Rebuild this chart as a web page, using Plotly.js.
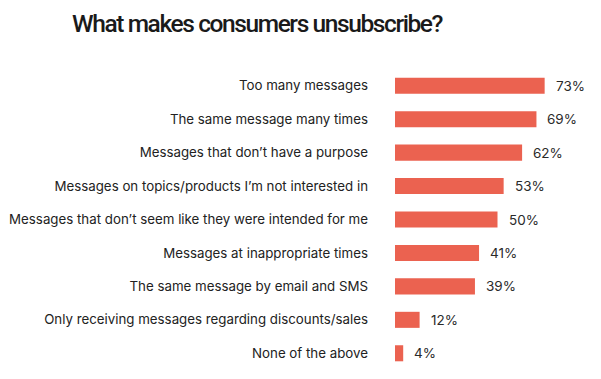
<!DOCTYPE html>
<html>
<head>
<meta charset="utf-8">
<script src="https://cdn.plot.ly/plotly-3.0.1.min.js"></script>
<style>html,body{margin:0;padding:0;background:#fff;}#chart{width:601px;height:379px;}
.gtitle{letter-spacing:-1.4px;}</style>
</head>
<body>
<div id="chart"></div>
<script>
const categories = [
  "Too many messages",
  "The same message many times",
  "Messages that don’t have a purpose",
  "Messages on topics/products I’m not interested in",
  "Messages that don’t seem like they were intended for me",
  "Messages at inappropriate times",
  "The same message by email and SMS",
  "Only receiving messages regarding discounts/sales",
  "None of the above"
];
const values = [73, 69, 62, 53, 50, 41, 39, 12, 4];
const valueLabels = values.map(v => v + "%");

const FONT = "Inter, 'Noto Sans', sans-serif";

const trace = {
  type: "bar",
  orientation: "h",
  y: categories,
  x: values,
  width: 0.48,
  marker: {color: "#EB6250"},
  hoverinfo: "none"
};

const annotations = categories.map((c, i) => ({
  x: values[i], y: c, xref: "x", yref: "y",
  text: valueLabels[i], showarrow: false,
  xanchor: "left", xshift: 9,
  font: {family: FONT, size: 13.5, color: "#2a2a2a"}
}));

const layout = {
  width: 601, height: 379,
  margin: {l: 395, r: 1, t: 69, b: 9},
  paper_bgcolor: "#fff", plot_bgcolor: "#fff",
  showlegend: false,
  title: {text: "What makes consumers unsubscribe?", xref: "container", x: 72/601, xanchor: "left",
          yref: "container", y: 1 - 23.5/379, yanchor: "middle",
          font: {family: "Roboto, sans-serif", size: 24.5, color: "#1a1a1a", weight: 500}},
  xaxis: {range: [0, 100], visible: false, fixedrange: true},
  yaxis: {autorange: "reversed", showgrid: false, zeroline: false, showline: false, ticks: "",
          ticklabelstandoff: 26,
          tickfont: {family: FONT, size: 13.3, color: "#222"}},
  annotations: annotations
};

Plotly.newPlot("chart", [trace], layout, {displayModeBar: false, staticPlot: true});
</script>
</body>
</html>
